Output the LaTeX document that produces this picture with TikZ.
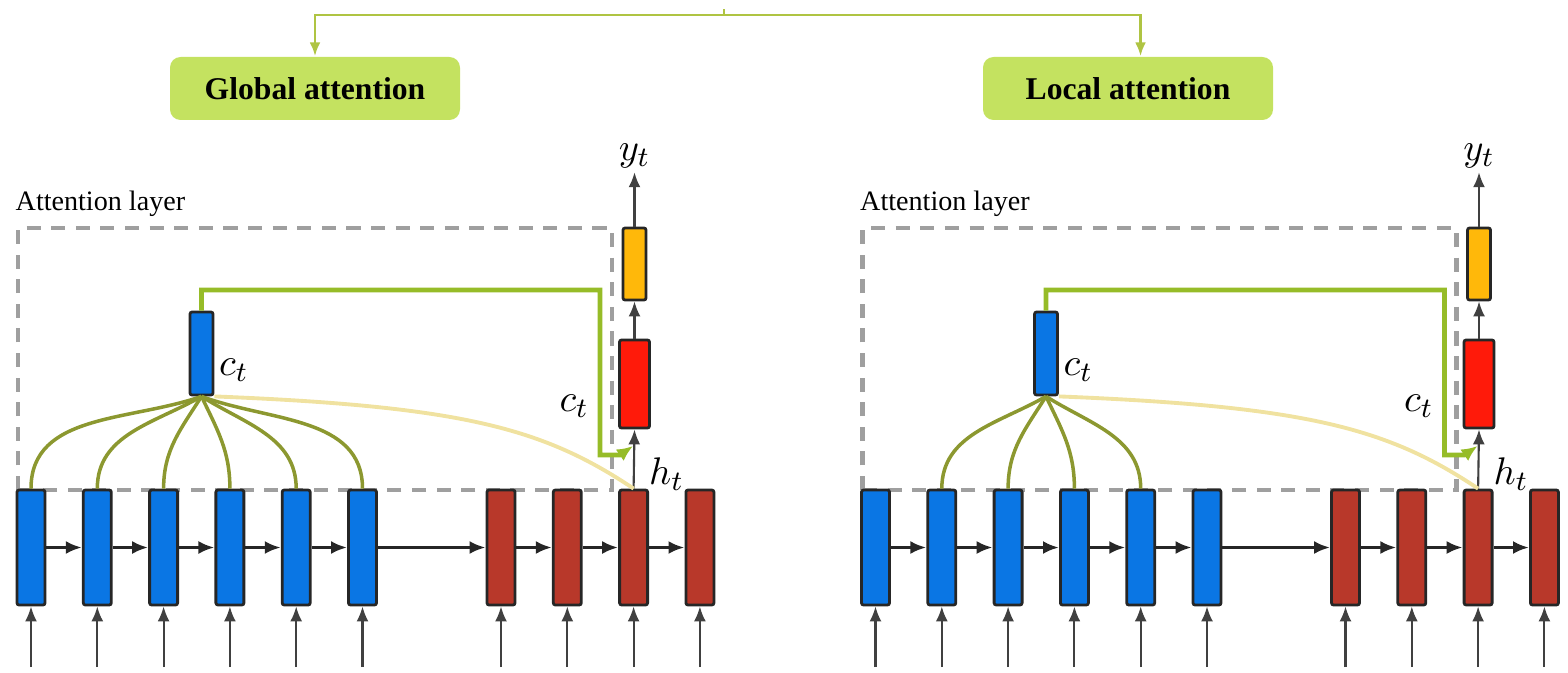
\documentclass[tikz,border=0pt]{standalone}
\usepackage{amsmath}
\usepackage{fontspec}
\setmainfont{Liberation Serif}
\usetikzlibrary{arrows.meta}

\definecolor{encblue}{RGB}{10,118,228}
\definecolor{decbrown}{RGB}{184,56,42}
\definecolor{outred}{RGB}{255,26,10}
\definecolor{outyellow}{RGB}{255,184,10}
\definecolor{headgreen}{RGB}{196,226,96}
\definecolor{fanolive}{RGB}{140,152,48}
\definecolor{backgreen}{RGB}{150,188,40}
\definecolor{faintyellow}{RGB}{240,226,160}

\begin{document}
\begin{tikzpicture}[x=1cm,y=1cm,
  cell/.style={draw=black!85, line width=0.8pt, rounded corners=0.6pt, inner sep=0pt, minimum width=0.28cm, minimum height=1.15cm},
  enc/.style={cell, fill=encblue},
  dec/.style={cell, fill=decbrown},
  lbl/.style={font=\fontsize{11}{13}\selectfont, inner sep=1pt},
  head/.style={rounded corners=3pt, fill=headgreen, minimum width=2.9cm, minimum height=0.63cm, font=\fontsize{9}{11}\selectfont\bfseries},
  flow/.style={-{Latex[length=1.6mm,width=1.3mm]}, line width=0.9pt, black!85},
  feed/.style={-{Latex[length=1.5mm,width=1.2mm]}, line width=0.6pt, black!75},
  fan/.style={fanolive, line width=1pt},
  layer/.style={gray!75, line width=1.2pt, dash pattern=on 4pt off 3pt}]
\useasboundingbox (0,0) rectangle (15.68,6.72);

% top split into the two variants
\coordinate (split) at (7.24,6.57);
\node [head] (glob) at (3.15,5.835) {Global attention};
\node [head] (loc) at (11.28,5.835) {Local attention};
\draw [headgreen!70!olive, line width=0.8pt] (split) -- +(0,0.06);
\draw [headgreen!70!olive, line width=0.8pt, -{Latex[length=1.4mm,width=1.1mm]}] (split) -| (glob.north);
\draw [headgreen!70!olive, line width=0.8pt, -{Latex[length=1.4mm,width=1.1mm]}] (split) -| ([xshift=1.25mm]loc.north);

\foreach \p/\dx/\lo/\hi in {g/0/1/6, l/8.445/2/5}{
\begin{scope}[xshift=\dx cm]
  \node [anchor=base west, font=\fontsize{8}{10}\selectfont, inner sep=0pt] (\p-title) at (0.15,4.62) {Attention layer};
  \draw [layer] (0.18,1.82) rectangle (6.12,4.44);

  % encoder and decoder cells
  \foreach \i in {1,...,6}{
    \node [enc] (\p-e\i) at ({0.31+0.663*(\i-1)},1.245) {};
    \coordinate (\p-ei\i) at ({0.31+0.663*(\i-1)},0.05);
    \draw [feed] (\p-ei\i) -- (\p-e\i.south);
  }
  \foreach \j in {1,...,4}{
    \node [dec] (\p-d\j) at ({5.01+0.663*(\j-1)},1.245) {};
    \coordinate (\p-di\j) at ({5.01+0.663*(\j-1)},0.05);
    \draw [feed] (\p-di\j) -- (\p-d\j.south);
  }
  \foreach \i [count=\k from 2] in {1,...,5}
    \draw [flow] (\p-e\i.east) -- (\p-e\k.west);
  \draw [flow] (\p-e6.east) -- (\p-d1.west);
  \foreach \j [count=\k from 2] in {1,...,3}
    \draw [flow] (\p-d\j.east) -- (\p-d\k.west);

  % context vector and output
  \node [cell, fill=encblue, minimum width=0.23cm, minimum height=0.83cm] (\p-c) at (2.015,3.185) {};
  \node [cell, fill=outred, minimum width=0.30cm, minimum height=0.88cm] (\p-r) at (6.345,2.88) {};
  \node [cell, fill=outyellow, minimum width=0.23cm, minimum height=0.72cm] (\p-o) at (6.345,4.08) {};
  \node [lbl] (\p-y) at (6.345,5.16) {$y_t$};
  \draw [feed] (\p-d3.north) -- (\p-r.south);
  \draw [feed] (\p-r.north) -- (\p-o.south);
  \draw [feed] (\p-o.north) -- (\p-y.south);

  \draw [faintyellow, line width=1.1pt] (\p-c.south east) .. controls +(2.5,-0.1) and +(-0.9,0.6) .. (\p-d3.north);
  \foreach \i in {\lo,...,\hi}{
    \pgfmathsetmacro\o{atan2(-0.6,0.31+0.663*(\i-1)-2.015)}
    \draw [fan] (\p-c.south) to[out=\o,in=90] (\p-e\i.north);
  }
  \draw [backgreen, line width=1.3pt, -{Latex[length=1.6mm,width=1.4mm]}] (\p-c.north) |- (6.00,3.82) -- (6.00,2.17) -- (6.20,2.17) -- (6.33,2.26);

  \node [lbl, anchor=west] at (2.15,3.02) {$c_t$};
  \node [lbl, anchor=east] at (5.93,2.66) {$c_t$};
  \node [lbl, anchor=west] at (6.45,1.98) {$h_t$};
\end{scope}
}
\end{tikzpicture}
\end{document}
